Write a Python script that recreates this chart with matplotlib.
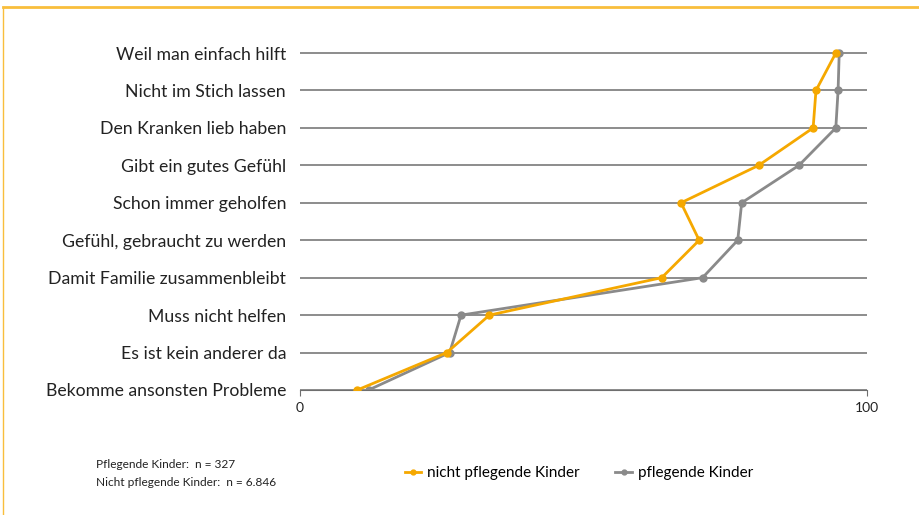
import matplotlib
matplotlib.use('Agg')
from matplotlib import pyplot as plt
from matplotlib.lines import Line2D

# Kategorien von unten nach oben
gruende = ['Bekomme ansonsten Probleme', 'Es ist kein anderer da', 'Muss nicht helfen',
           'Damit Familie zusammenbleibt', 'Gefühl, gebraucht zu werden', 'Schon immer geholfen',
           'Gibt ein gutes Gefühl', 'Den Kranken lieb haben', 'Nicht im Stich lassen',
           'Weil man einfach hilft']
nicht_pflegend = [10.1, 25.9, 33.4, 63.8, 70.4, 67.2, 80.9, 90.5, 91.0, 94.5]
pflegend = [12.1, 26.4, 28.4, 71.0, 77.2, 77.9, 88.0, 94.5, 94.9, 95.1]
x_ticks = [0, 100]
fussnote = ['Pflegende Kinder:  n = 327', 'Nicht pflegende Kinder:  n = 6.846']

plt.rcParams['font.family'] = ['Lato', 'DejaVu Sans']

W, H = 919, 515
fig = plt.figure(figsize=(W / 100, H / 100), dpi=100)
ax = fig.add_axes([300 / W, 1 - 390 / H, 567 / W, (390 - 34.3) / H])

ypos = list(range(len(gruende)))
for y in ypos:
    ax.axhline(y, color='#6e6e6e', lw=1.1, zorder=1)

orange = '#F5A800'
grau = '#8a8a8a'
ax.plot(nicht_pflegend, ypos, color=orange, lw=2, marker='o', ms=5, zorder=3,
        label='nicht pflegende Kinder')
ax.plot(pflegend, ypos, color=grau, lw=2, marker='o', ms=5, zorder=2,
        label='pflegende Kinder')

ax.set_xlim(0, 100)
ax.set_ylim(0, 9.5)
ax.set_xticks(x_ticks)
ax.set_xticklabels([str(t) for t in x_ticks], fontsize=10, color='#222222')
ax.set_yticks(ypos)
ax.set_yticklabels(gruende, fontsize=12.7, color='#222222')
ax.tick_params(axis='y', length=0, pad=10)
ax.tick_params(axis='x', length=4, color='#6e6e6e', pad=5)
for s in ['top', 'right', 'left']:
    ax.spines[s].set_visible(False)
ax.spines['bottom'].set_color('#6e6e6e')

ax.legend(loc='center', bbox_to_anchor=(579 / W, 1 - 473 / H), bbox_transform=fig.transFigure,
          frameon=False, ncol=2, fontsize=11, handlelength=1.1, handletextpad=0.4,
          columnspacing=2.3, markerscale=0.7)

fig.text(96 / W, 1 - 465 / H, fussnote[0], fontsize=8.6, va='center', color='#222222')
fig.text(96 / W, 1 - 482 / H, fussnote[1], fontsize=8.6, va='center', color='#222222')

# Rahmen
fig.add_artist(Line2D([3 / W, 3 / W], [0, 1 - 7 / H], transform=fig.transFigure,
                      color='#F9BE3C', lw=1))
fig.add_artist(Line2D([3 / W, 1], [1 - 7 / H, 1 - 7 / H], transform=fig.transFigure,
                      color='#F9BE3C', lw=2))

plt.savefig('out.png', dpi=100)
